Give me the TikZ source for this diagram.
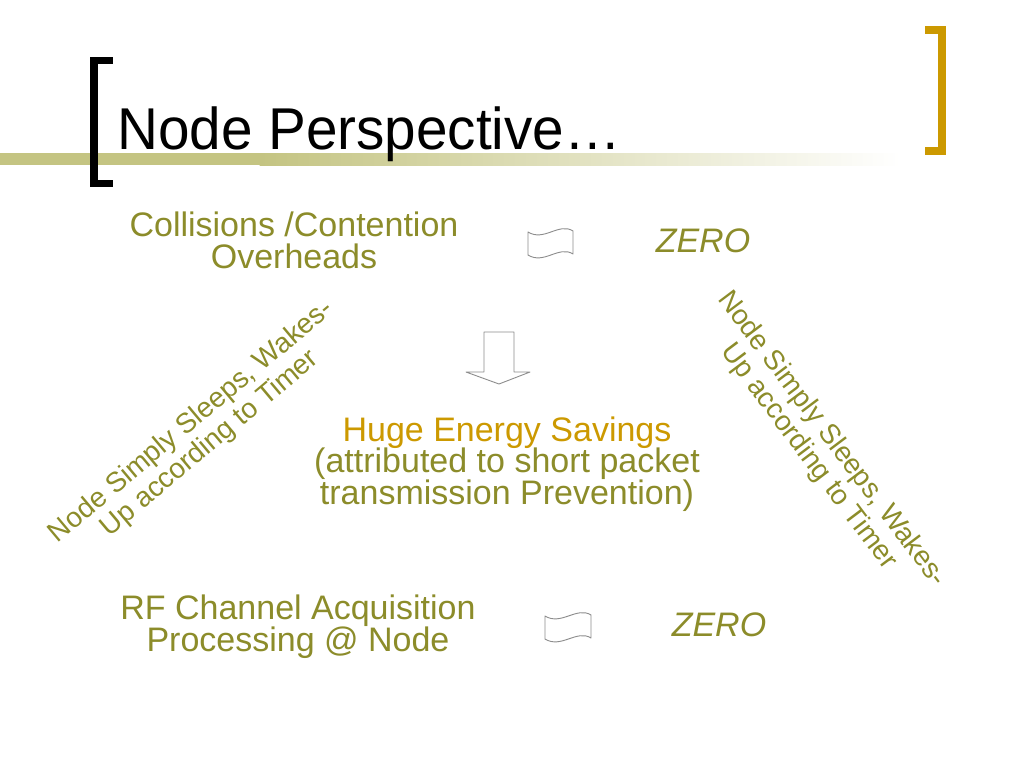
\documentclass[tikz,border=0pt]{standalone}
\usepackage{fontspec}
\setmainfont{Liberation Sans}
\definecolor{olivetext}{RGB}{140,140,42}
\definecolor{goldtext}{RGB}{204,153,0}
\definecolor{barcol}{RGB}{196,196,130}
\definecolor{flaggray}{RGB}{140,140,140}
\tikzset{
  body/.style={text=olivetext, font=\fontsize{34}{32}\selectfont, inner sep=0pt, anchor=base},
  zero/.style={text=olivetext, font=\fontsize{34}{32}\selectfont\itshape, inner sep=0pt, anchor=base},
  diag/.style={text=olivetext, font=\fontsize{28}{29}\selectfont, inner sep=0pt, align=center},
  flagline/.style={draw=flaggray, line width=0.9pt, line join=round},
}
\begin{document}
\begin{tikzpicture}[x=1pt,y=-1pt]
\useasboundingbox[fill=white] (0,0) rectangle (1024,768);
% title bar
\fill[barcol] (0,153) rectangle (260,165);
\shade[left color=barcol, right color=white, shading angle=90] (259.5,153) rectangle (900,165);
% brackets
\fill[black] (90,57) rectangle (113,64);
\fill[black] (90,57) rectangle (98,187);
\fill[black] (90,180) rectangle (113,187);
\fill[goldtext] (925,26) rectangle (946,34);
\fill[goldtext] (938,26) rectangle (946,155);
\fill[goldtext] (925,147) rectangle (946,155);
% title
\node[anchor=base west, inner sep=0pt, font=\fontsize{59}{60}\selectfont] (title) at (117,149) {\scalebox{0.96}[1]{Node Perspective…}};
% top row
\node[body] (coll1) at (294,236) {Collisions /Contention};
\node[body] (coll2) at (294,268) {Overheads};
\coordinate (f1) at (528,232);
\draw[flagline] (f1) .. controls +(16,10) and +(-14,-9) .. ++(45,-1) -- ++(0,23) .. controls +(-14,-9) and +(16,10) .. ++(-45,1) -- cycle;
\node[zero] (zero1) at (703,252) {ZERO};
% down arrow
\draw[flagline] (484,332) -- (514,332) -- (514,372) -- (530,372) -- (499,384) -- (466,372) -- (484,372) -- cycle;
% centre
\node[body, text=goldtext] (huge) at (507,441) {Huge Energy Savings};
\node[body] (attr) at (507,472) {(attributed to short packet};
\node[body] (trans) at (507,504) {transmission Prevention)};
% bottom row
\node[body] (rf1) at (298,619) {RF Channel Acquisition};
\node[body] (rf2) at (298,651) {Processing @ Node};
\coordinate (f2) at (545,616);
\draw[flagline] (f2) .. controls +(16,10) and +(-14,-9) .. ++(46,-1) -- ++(0,23) .. controls +(-14,-9) and +(16,10) .. ++(-46,1) -- cycle;
\node[zero] (zero2) at (719,636) {ZERO};
% diagonal texts
\node[diag, rotate=40] (left) at (201,433) {Node Simply Sleeps, Wakes-\\Up according to Timer};
\node[diag, rotate=-53] (right) at (820,448) {Node Simply Sleeps, Wakes-\\Up according to Timer};
\end{tikzpicture}
\end{document}
